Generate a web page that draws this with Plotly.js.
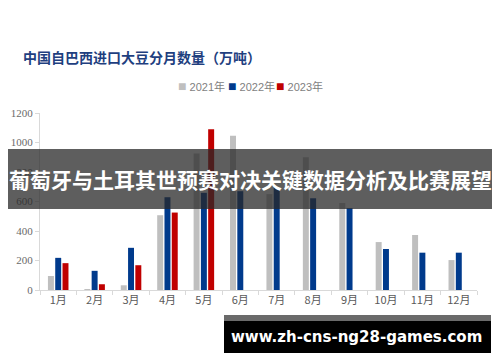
<!DOCTYPE html>
<html>
<head>
<meta charset="utf-8">
<script src="https://cdn.plot.ly/plotly-3.0.1.min.js"></script>
<style>html,body{margin:0;padding:0;background:#fff;}#chart{width:500px;height:362px;}</style>
</head>
<body>
<div id="chart"></div>
<script>
const months = ['1月','2月','3月','4月','5月','6月','7月','8月','9月','10月','11月','12月'];
const seriesNames = ['2021年','2022年','2023年'];
const y2021 = [95, 7, 32, 507, 925, 1045, 650, 900, 590, 325, 373, 203];
const y2022 = [218, 130, 286, 629, 659, 670, 698, 622, 555, 278, 253, 253];
const y2023 = [182, 39, 168, 525, 1090, null, null, null, null, null, null, null];
const colors = ['#bfbfbf', '#003a8c', '#c00000'];
const yTicks = [0, 200, 400, 600, 800, 1000, 1200];

const W = 500, H = 362;
const L = 40, R = 23, T = 113, B = 72;
const pw = W - L - R, ph = H - T - B;
const px = x => (x - L) / pw;
const py = y => (H - B - y) / ph;

const traces = [y2021, y2022, y2023].map((ys, i) => ({
  type: 'bar', x: months, y: ys, name: seriesNames[i],
  marker: {color: colors[i]}, hoverinfo: 'skip', showlegend: false
}));

const legendAnn = seriesNames.map((n, i) => ({
  xref: 'paper', yref: 'paper', x: px([176, 226, 274][i]), y: py(86),
  xanchor: 'left', yanchor: 'middle', showarrow: false,
  text: '<span style="color:' + colors[i] + ';font-size:14px">■</span> ' + n,
  font: {family: 'Liberation Sans, Noto Sans CJK SC, sans-serif', size: 11, color: '#7f7f7f'}
}));

const layout = {
  width: W, height: H,
  margin: {l: L, r: R, t: T, b: B},
  paper_bgcolor: '#ffffff', plot_bgcolor: '#ffffff',
  barmode: 'group', bargap: 0.4, bargroupgap: 0.18,
  font: {family: 'Liberation Sans, Noto Sans CJK SC, sans-serif', color: '#595959', size: 11},
  xaxis: {
    type: 'category', showgrid: false, zeroline: false,
    showline: true, linecolor: '#d9d9d9', linewidth: 1,
    ticks: 'outside', tickson: 'boundaries', ticklen: 4, tickcolor: '#d9d9d9',
    tickfont: {size: 11, color: '#595959', family: 'Noto Sans CJK SC, sans-serif'}
  },
  yaxis: {
    range: [0, 1200], tickvals: yTicks, showgrid: false, zeroline: false,
    showline: true, linecolor: '#d9d9d9', linewidth: 1,
    ticks: 'outside', ticklen: 4, tickcolor: '#d9d9d9',
    tickfont: {size: 11, color: '#6a6a6a', family: 'Liberation Serif, serif'}
  },
  shapes: [
    {type: 'rect', xref: 'paper', yref: 'paper', x0: px(8), x1: px(492), y0: py(149), y1: py(209),
     fillcolor: 'rgba(40,40,40,0.75)', line: {width: 0}, layer: 'above'},
    {type: 'rect', xref: 'paper', yref: 'paper', x0: px(224), x1: px(491), y0: py(315), y1: py(321),
     fillcolor: '#6a6a6a', line: {width: 0}, layer: 'above'},
    {type: 'rect', xref: 'paper', yref: 'paper', x0: px(224), x1: px(491), y0: py(321), y1: py(353),
     fillcolor: '#000000', line: {width: 0}, layer: 'above'}
  ],
  annotations: [
    {xref: 'paper', yref: 'paper', x: px(21), y: py(57), xanchor: 'left', yanchor: 'middle', showarrow: false,
     text: '<b>中国自巴西进口大豆分月数量（万吨）</b>',
     font: {family: 'Noto Sans CJK SC, sans-serif', size: 14, color: '#1f3f7f'}},
    ...legendAnn,
    {xref: 'paper', yref: 'paper', x: px(250), y: py(179), xanchor: 'center', yanchor: 'middle', showarrow: false,
     text: '<b>葡萄牙与土耳其世预赛对决关键数据分析及比赛展望</b>',
     font: {family: 'Noto Sans CJK SC, sans-serif', size: 21, color: '#ffffff'}},
    {xref: 'paper', yref: 'paper', x: px(356), y: py(337), xanchor: 'center', yanchor: 'middle', showarrow: false,
     text: '<b>www.zh-cns-ng28-games.com</b>',
     font: {family: 'DejaVu Sans, sans-serif', size: 15, color: '#ffffff'}}
  ]
};

Plotly.newPlot('chart', traces, layout, {displayModeBar: false, staticPlot: true});
</script>
</body>
</html>
